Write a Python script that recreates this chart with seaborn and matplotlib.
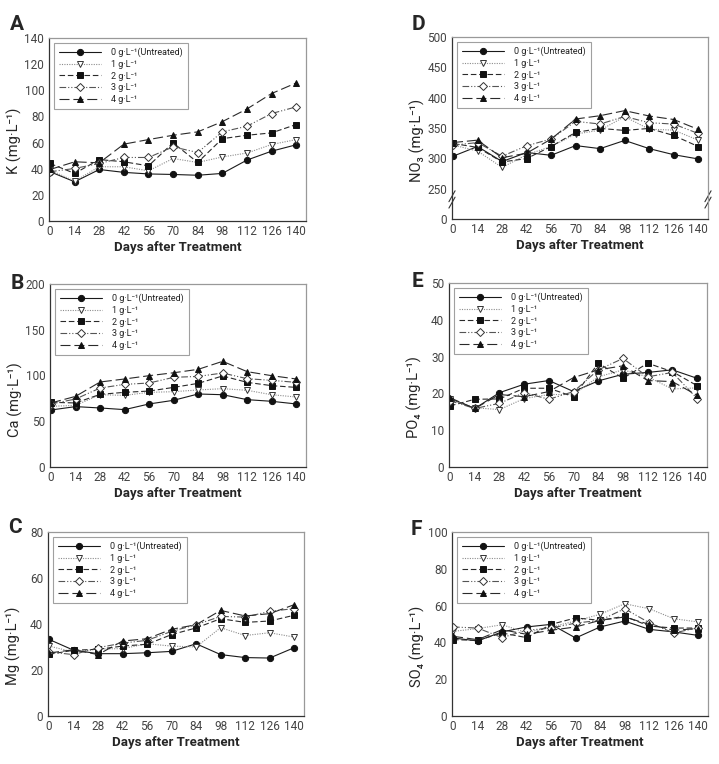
import numpy as np
import pandas as pd
import matplotlib
matplotlib.use("Agg")
import matplotlib.pyplot as plt
import seaborn as sns

sns.set_style("white")
FAM = ['Roboto', 'DejaVu Sans']
plt.rcParams['font.family'] = FAM

days = [0, 14, 28, 42, 56, 70, 84, 98, 112, 126, 140]
series_labels = ["0 g·L⁻¹(Untreated)", "1 g·L⁻¹", "2 g·L⁻¹", "3 g·L⁻¹", "4 g·L⁻¹"]

# Panel A: K
K_0 = [37.7, 30.0, 39.4, 37.2, 36.0, 35.6, 35.0, 36.4, 46.6, 53.4, 58.3]
K_1 = [39.0, 30.5, 41.5, 41.5, 38.4, 47.8, 44.8, 49.0, 52.0, 58.5, 62.3]
K_2 = [44.0, 36.4, 47.0, 45.3, 42.2, 59.8, 44.8, 63.0, 65.6, 67.4, 73.8]
K_3 = [37.7, 40.2, 44.0, 48.6, 48.6, 56.7, 52.4, 68.2, 72.5, 82.2, 87.3]
K_4 = [39.4, 45.3, 44.5, 58.8, 62.3, 65.6, 68.2, 76.0, 85.7, 97.5, 105.6]

# Panel B: Ca
Ca_0 = [62.3, 66.0, 64.5, 62.7, 68.9, 72.9, 79.8, 79.0, 73.6, 71.8, 68.9]
Ca_1 = [66.3, 67.4, 79.0, 78.3, 81.6, 82.3, 84.2, 85.6, 83.8, 79.0, 76.5]
Ca_2 = [70.7, 70.0, 79.4, 81.6, 83.0, 87.0, 91.4, 99.5, 92.5, 88.9, 87.0]
Ca_3 = [68.9, 74.3, 86.3, 90.3, 91.8, 98.0, 99.0, 102.7, 96.5, 94.7, 92.5]
Ca_4 = [70.0, 77.2, 92.9, 96.2, 99.8, 103.0, 106.7, 115.5, 104.2, 99.8, 96.2]

# Panel C: Mg
Mg_0 = [33.3, 28.6, 27.1, 27.1, 27.5, 28.1, 31.4, 26.7, 25.4, 25.2, 29.7]
Mg_1 = [30.4, 27.8, 29.1, 29.3, 31.4, 30.4, 30.0, 38.4, 35.0, 36.2, 34.3]
Mg_2 = [26.8, 28.6, 29.0, 30.4, 31.2, 35.4, 38.3, 42.3, 40.7, 41.3, 43.8]
Mg_3 = [27.8, 26.7, 29.7, 31.7, 32.9, 36.8, 39.7, 43.3, 43.0, 45.5, 46.7]
Mg_4 = [27.4, 28.8, 26.7, 32.6, 33.6, 37.7, 39.7, 45.9, 43.5, 44.5, 48.4]

# Panel D: NO3
NO3_0 = [303.5, 319.5, 294.7, 309.6, 305.0, 321.0, 316.0, 329.5, 316.0, 306.0, 299.0]
NO3_1 = [322.0, 312.0, 285.0, 306.0, 319.5, 340.0, 346.5, 368.7, 348.0, 346.5, 330.0]
NO3_2 = [324.5, 318.0, 294.0, 299.6, 319.5, 342.7, 349.3, 346.0, 349.3, 337.7, 319.5]
NO3_3 = [321.7, 326.0, 303.5, 320.6, 332.0, 361.0, 356.5, 369.0, 358.7, 356.5, 341.0]
NO3_4 = [326.0, 330.0, 301.0, 308.5, 331.7, 364.8, 370.3, 378.6, 369.8, 364.0, 347.7]

# Panel E: PO4
PO4_0 = [18.6, 15.9, 20.2, 22.5, 23.5, 20.5, 23.4, 25.2, 25.7, 26.4, 24.1]
PO4_1 = [18.4, 16.1, 15.6, 18.6, 19.7, 19.7, 24.5, 26.4, 24.5, 21.2, 21.5]
PO4_2 = [16.6, 18.4, 18.5, 21.4, 21.4, 19.1, 28.2, 24.1, 28.2, 25.9, 22.1]
PO4_3 = [18.0, 15.9, 17.3, 20.2, 18.4, 20.5, 26.4, 29.5, 24.5, 25.7, 18.6]
PO4_4 = [18.8, 15.9, 19.7, 19.1, 20.5, 24.3, 26.4, 27.5, 23.5, 23.2, 19.5]

# Panel F: SO4
SO4_0 = [42.4, 40.8, 45.7, 48.4, 49.8, 42.4, 48.4, 51.6, 47.1, 45.7, 43.8]
SO4_1 = [46.0, 47.5, 49.6, 45.3, 48.4, 51.6, 55.3, 61.0, 58.3, 52.9, 51.1]
SO4_2 = [41.5, 41.1, 45.1, 42.6, 49.8, 53.3, 52.0, 54.2, 48.9, 47.8, 47.8]
SO4_3 = [48.4, 47.8, 42.6, 46.6, 47.8, 50.5, 52.0, 58.3, 50.7, 45.1, 48.0]
SO4_4 = [43.3, 41.5, 46.9, 44.4, 46.6, 48.4, 52.0, 53.8, 49.8, 46.6, 47.5]

x_ticks = days
x_ticklabels = [str(d) for d in days]

styles = [
    dict(color="#1a1a1a", linestyle="-", marker="o", markerfacecolor="#111111", markeredgecolor="#111111"),
    dict(color="#8c8c8c", linestyle=(0, (1, 1.2)), marker="v", markerfacecolor="white", markeredgecolor="#333333"),
    dict(color="#2a2a2a", linestyle=(0, (5, 2.5)), marker="s", markerfacecolor="#111111", markeredgecolor="#111111"),
    dict(color="#555555", linestyle=(0, (6, 1.8, 1, 1.8, 1, 1.8)), marker="D", markerfacecolor="white", markeredgecolor="#333333"),
    dict(color="#2a2a2a", linestyle=(0, (9, 3.5)), marker="^", markerfacecolor="#111111", markeredgecolor="#111111"),
]
msizes = [4.5, 4.5, 4.2, 3.8, 4.5]

panels = [
    dict(letter="A", series=[K_0, K_1, K_2, K_3, K_4], ylabel="K (mg·L⁻¹)",
         ylim=(0, 140), yticks=[0, 20, 40, 60, 80, 100, 120, 140], yticklabels=None,
         pos=[49, 38, 306, 221], lpos=(10, 30), ly=0.44),
    dict(letter="B", series=[Ca_0, Ca_1, Ca_2, Ca_3, Ca_4], ylabel="Ca (mg·L⁻¹)",
         ylim=(0, 200), yticks=[0, 50, 100, 150, 200], yticklabels=None,
         pos=[50, 284, 306, 467], lpos=(11, 289), ly=0.37),
    dict(letter="C", series=[Mg_0, Mg_1, Mg_2, Mg_3, Mg_4], ylabel="Mg (mg·L⁻¹)",
         ylim=(0, 80), yticks=[0, 20, 40, 60, 80], yticklabels=None,
         pos=[48, 532, 304, 716], lpos=(8, 533), ly=0.38),
    dict(letter="D", series=[NO3_0, NO3_1, NO3_2, NO3_3, NO3_4], ylabel="NO₃ (mg·L⁻¹)",
         ylim=(200, 500), yticks=[200, 250, 300, 350, 400, 450, 500],
         yticklabels=["0", "250", "300", "350", "400", "450", "500"],
         pos=[452, 37, 708, 219], lpos=(412, 30), ly=0.43),
    dict(letter="E", series=[PO4_0, PO4_1, PO4_2, PO4_3, PO4_4], ylabel="PO₄ (mg·L⁻¹)",
         ylim=(0, 50), yticks=[0, 10, 20, 30, 40, 50], yticklabels=None,
         pos=[449, 283, 707, 467], lpos=(412, 287), ly=0.38),
    dict(letter="F", series=[SO4_0, SO4_1, SO4_2, SO4_3, SO4_4], ylabel="SO₄ (mg·L⁻¹)",
         ylim=(0, 100), yticks=[0, 20, 40, 60, 80, 100], yticklabels=None,
         pos=[452, 532, 708, 716], lpos=(411, 535), ly=0.38),
]

W, H = 719, 764
fig = plt.figure(figsize=(W / 100, H / 100), dpi=100)

for p in panels:
    l, t, r, b = p["pos"]
    ax = fig.add_axes([l / W, 1 - b / H, (r - l) / W, (b - t) / H])
    for i, vals in enumerate(p["series"]):
        df = pd.DataFrame({"day": days, "value": vals})
        sns.lineplot(data=df, x="day", y="value", ax=ax, label=series_labels[i],
                     linewidth=0.8, markersize=msizes[i], markeredgewidth=0.7,
                     **styles[i])
    ax.set_xlim(-0.6, 145.6)
    ax.set_ylim(*p["ylim"])
    ax.set_xticks(x_ticks)
    ax.set_xticklabels(x_ticklabels)
    ax.set_yticks(p["yticks"])
    if p["yticklabels"] is not None:
        ax.set_yticklabels(p["yticklabels"])
    ax.tick_params(axis="x", direction="in", length=3, width=0.7, color="#444444",
                   labelsize=8.5, labelcolor="#444444", pad=3)
    ax.tick_params(axis="y", direction="out", length=2.5, width=0.7, color="#444444",
                   labelsize=8.5, labelcolor="#444444", pad=1)
    for s in ["left", "bottom"]:
        ax.spines[s].set_color("#333333")
        ax.spines[s].set_linewidth(0.9)
    for s in ["top", "right"]:
        ax.spines[s].set_color("#999999")
        ax.spines[s].set_linewidth(0.9)
    ax.set_xlabel("Days after Treatment", fontsize=9.5, fontweight="bold", labelpad=2)
    ax.set_ylabel(p["ylabel"], fontsize=10.5)
    ax.yaxis.set_label_coords(-27 / (r - l), p["ly"])
    leg = ax.legend(loc="upper left", bbox_to_anchor=(0.02, 0.975), borderaxespad=0,
                    prop={"size": 6.5},
                    handlelength=4.6, handletextpad=1.2, labelspacing=0.3,
                    frameon=True, fancybox=False, edgecolor="#888888", borderpad=0.55)
    leg.get_frame().set_linewidth(0.8)
    for txt in leg.get_texts():
        txt.set_color("#222222")
    fig.text(p["lpos"][0] / W, 1 - p["lpos"][1] / H, p["letter"], fontsize=15,
             fontweight="bold", ha="left", va="baseline")
    if p["letter"] == "D":
        yb = 0.11
        for xa in (0.0, 1.0):
            for dy in (-0.02, 0.015):
                ax.plot([xa - 0.012, xa + 0.012], [yb + dy - 0.03, yb + dy + 0.03],
                        transform=ax.transAxes, color="#333333", lw=0.8, clip_on=False)

fig.savefig("out.png", dpi=100)
